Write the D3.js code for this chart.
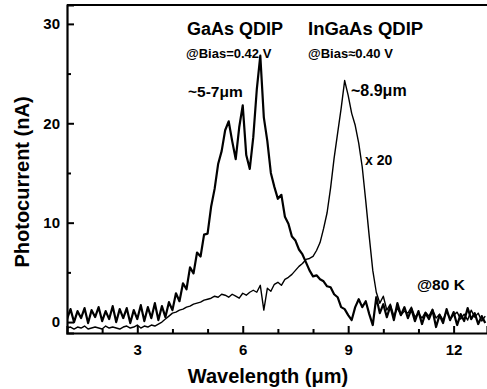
<!DOCTYPE html>
<html>
<head>
<meta charset="utf-8">
<script src="https://cdn.jsdelivr.net/npm/d3@7"></script>
<style>
  html, body { margin: 0; padding: 0; background: #fff; }
  svg text { font-family: "Liberation Sans", Arial, sans-serif; font-weight: bold; fill: #000; }
</style>
</head>
<body>
<div id="chart"></div>
<script>
// wavelength grid: first point and step (um)
var wlStart = 1.0;
var wlStep = 0.1;

// GaAs QDIP photocurrent (nA), one value per grid point from 1.0 to 12.9 um
var gaasValues = [
  0.3, 1.3, 0.0, 1.1, 0.4, 1.4, -0.1, 1.2, 0.5, 1.5,
  0.1, 1.1, 0.3, 1.6, 0.0, 1.3, 0.4, 1.4, -0.1, 1.2,
  0.3, 1.7, 0.1, 1.5, 0.4, 1.9, 0.2, 1.6,
  0.5, 2.0, 1.2, 2.9, 2.1, 3.9, 3.3, 5.5, 4.9, 7.0,
  6.6, 8.8, 8.9, 11.6, 13.4, 15.9, 17.2, 19.3, 20.2, 18.2,
  16.4, 19.6, 21.8, 16.8, 15.4, 18.6, 23.4, 26.8, 20.6, 18.2,
  15.0, 13.6, 12.4, 12.8, 10.6, 9.9, 8.6, 8.2, 7.3, 6.8,
  6.0, 5.2, 4.6, 4.7, 4.3, 4.1, 3.6, 3.5, 2.8, 2.5,
  1.5, 1.3, 0.7, 0.2, 1.5, 2.3, 1.5, 2.1, 0.8, -0.3,
  2.5, 0.9, 1.8, 0.5, 1.6, 0.2, 1.9, 0.7, 1.5, 0.4,
  1.3, 0.1, 1.1, -0.2, 0.9, 0.3, 1.2, -0.5, 0.7, -0.1,
  1.3, 0.2, 1.0, -0.3, 0.8, 0.1, 1.4, 0.3, 0.9, -0.2,
  0.6, -0.1
];

// InGaAs QDIP photocurrent (nA, shown x 20), same grid
var ingaasValues = [
  -0.6, -0.5, -0.7, -0.5, -0.6, -0.4, -0.7, -0.6, -0.5, -0.6,
  -0.7, -0.4, -0.6, -0.5, -0.6, -0.7, -0.5, -0.4, -0.6, -0.5,
  -0.3, -0.6, -0.4, -0.5, -0.3, -0.4,
  -0.2, 0.0, 0.3, 0.6, 0.9, 1.0, 1.2, 1.3, 1.5, 1.6,
  1.8, 1.9, 2.0, 2.2, 2.3, 2.4, 2.6, 2.5, 2.8, 2.7,
  2.5, 2.8, 2.6, 2.4, 2.9, 2.7, 3.0, 3.2, 3.0, 3.7,
  1.2, 3.4, 3.1, 3.8, 4.0, 3.7, 4.3, 4.5, 4.8, 5.2,
  5.6, 5.9, 6.3, 6.4, 6.6, 7.2, 8.0, 9.4, 11.0, 13.5,
  16.5, 19.0, 21.5, 24.3, 22.8, 21.0, 19.8, 18.0, 15.6, 12.2,
  8.6, 5.2, 3.0, 1.9, 2.6, 1.2, 1.8, 0.6, 1.4, 0.7,
  1.1, 0.9, 1.5, 0.5, 0.9, 0.4, 1.0, 0.6, 1.3, 0.4,
  0.8, 0.2, 1.1, 0.3, 0.7, 1.0, 0.3, 0.8, 0.2, 1.2,
  0.5, 0.9, 0.1, 0.6
];

var xMajorTicks = [3, 6, 9, 12];
var xMinorTicks = [2, 4, 5, 7, 8, 10, 11];
var yMajorTicks = [0, 10, 20, 30];
var yMinorTicks = [5, 15, 25];

var width = 487, height = 389;
var margin = {left: 67, right: 487, top: 5, bottom: 333};

var svg = d3.select('#chart').append('svg')
  .attr('width', width)
  .attr('height', height);

var x = d3.scaleLinear().domain([1, 12.95]).range([margin.left, margin.right]);
var y = d3.scaleLinear().domain([-1.1, 31.9]).range([margin.bottom, margin.top]);

svg.append('defs').append('clipPath')
  .attr('id', 'plot-clip')
  .append('rect')
  .attr('x', margin.left)
  .attr('y', margin.top)
  .attr('width', margin.right - margin.left)
  .attr('height', margin.bottom - margin.top);

var line = d3.line()
  .x((d, i) => x(wlStart + i * wlStep))
  .y(d => y(d));

var plot = svg.append('g').attr('clip-path', 'url(#plot-clip)');

plot.append('path')
  .datum(ingaasValues)
  .attr('d', line)
  .attr('fill', 'none')
  .attr('stroke', '#000')
  .attr('stroke-width', 1.4)
  .attr('stroke-linejoin', 'round');

plot.append('path')
  .datum(gaasValues)
  .attr('d', line)
  .attr('fill', 'none')
  .attr('stroke', '#000')
  .attr('stroke-width', 2.2)
  .attr('stroke-linejoin', 'round');

// x axis, ticks pointing inward
svg.append('g')
  .attr('transform', 'translate(0,' + margin.bottom + ')')
  .call(d3.axisBottom(x).tickValues(xMajorTicks).tickSize(-7).tickPadding(11).tickFormat(d3.format('d')));
svg.append('g')
  .attr('transform', 'translate(0,' + margin.bottom + ')')
  .call(d3.axisBottom(x).tickValues(xMinorTicks).tickSize(-4).tickFormat(''))
  .select('.domain').remove();

// y axis
svg.append('g')
  .attr('transform', 'translate(' + margin.left + ',0)')
  .call(d3.axisLeft(y).tickValues(yMajorTicks).tickSize(-7).tickPadding(7).tickFormat(d3.format('d')));
svg.append('g')
  .attr('transform', 'translate(' + margin.left + ',0)')
  .call(d3.axisLeft(y).tickValues(yMinorTicks).tickSize(-4).tickFormat(''))
  .select('.domain').remove();

svg.selectAll('.domain').attr('stroke-width', 2.2).attr('stroke', '#000');
svg.selectAll('.tick line').attr('stroke-width', 2).attr('stroke', '#000');
svg.selectAll('.tick text')
  .attr('font-family', '"Liberation Sans", Arial, sans-serif')
  .attr('font-weight', 'bold')
  .attr('font-size', '15px')
  .attr('fill', '#000');

// top frame line
svg.append('line')
  .attr('x1', margin.left).attr('x2', margin.right)
  .attr('y1', margin.top).attr('y2', margin.top)
  .attr('stroke', '#000')
  .attr('stroke-width', 2.2);

// axis titles
svg.append('text')
  .attr('x', 268)
  .attr('y', 383)
  .attr('text-anchor', 'middle')
  .attr('font-size', '20px')
  .text('Wavelength  (\u03bcm)');

svg.append('text')
  .attr('transform', 'translate(29,182)rotate(-90)')
  .attr('text-anchor', 'middle')
  .attr('font-size', '20px')
  .text('Photocurrent (nA)');

// annotations
var notes = [
  {t: 'GaAs QDIP', x: 187, y: 35, s: 18},
  {t: 'InGaAs QDIP', x: 308, y: 35, s: 18.5},
  {t: '@Bias=0.42 V', x: 186, y: 58, s: 13},
  {t: '@Bias\u22480.40 V', x: 308, y: 58, s: 13},
  {t: '~5-7\u03bcm', x: 188, y: 97, s: 15.5},
  {t: '~8.9\u03bcm', x: 351, y: 96, s: 16},
  {t: 'x 20', x: 365, y: 165, s: 14},
  {t: '@80 K', x: 417, y: 290, s: 15.5}
];
svg.selectAll('.note').data(notes).enter()
  .append('text')
  .attr('class', 'note')
  .attr('x', d => d.x)
  .attr('y', d => d.y)
  .attr('font-size', d => d.s + 'px')
  .text(d => d.t);
</script>
</body>
</html>
